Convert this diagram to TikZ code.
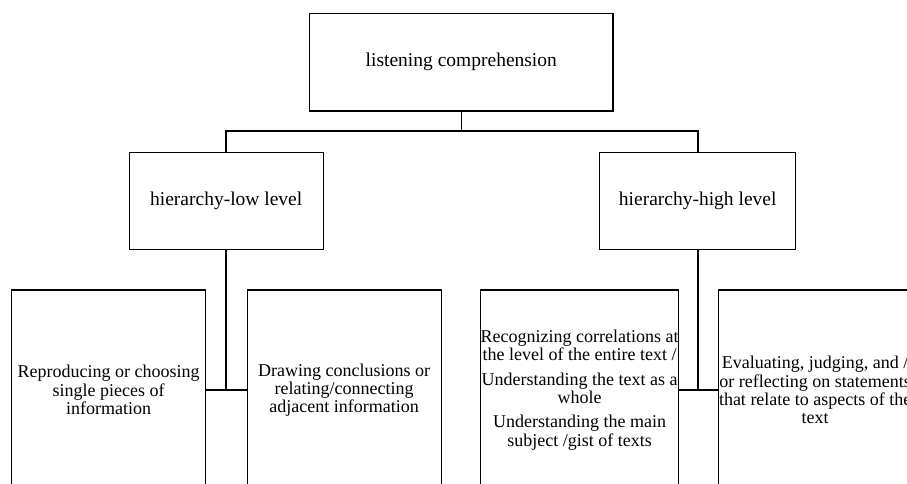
\documentclass[tikz,border=0pt]{standalone}
\usepackage{fontspec}
\setmainfont{Liberation Serif}
\begin{document}
\begin{tikzpicture}[x=1pt,y=-1pt,
  box/.style={draw=black, line width=1.3pt, rectangle, inner sep=0pt, align=center, fill=white},
  bigtxt/.style={font=\fontsize{19.5}{21}\selectfont},
  smalltxt/.style={font=\fontsize{18}{18.3}\selectfont},
  conn/.style={draw=black, line width=1.6pt}]
\useasboundingbox (0,0) rectangle (907,484);
\clip (0,0) rectangle (907,484);
\fill[white] (0,0) rectangle (907,484);

\node[box, bigtxt, minimum width=303.5pt, minimum height=97.7pt] (top) at (461.3,62.2) {listening comprehension};
\node[box, bigtxt, minimum width=194pt, minimum height=97pt] (low) at (226.2,200.7) {hierarchy-low level};
\node[box, bigtxt, minimum width=196pt, minimum height=97pt] (high) at (697.7,200.7) {hierarchy-high level};

\node[box, smalltxt, minimum width=194pt, minimum height=200pt] (b1) at (108.7,390) {Reproducing or choosing\\single pieces of\\information};
\node[box, smalltxt, minimum width=194pt, minimum height=200pt] (b2) at (344.2,390) {Drawing conclusions or\\relating/connecting\\adjacent information};
\node[box, smalltxt, minimum width=194pt, minimum height=200pt] (b3) at (579.7,390) {Recognizing correlations at\\the level of the entire text /\\[6pt]Understanding the text as a\\whole\\[6pt]Understanding the main\\subject /gist of texts};
\node[box, smalltxt, minimum width=194pt, minimum height=200pt] (b4) at (815.2,390) {Evaluating, judging, and /\\or reflecting on statements\\that relate to aspects of the\\text};

\coordinate (j) at (461.3,131);

\draw[conn] (top.south) -- (j);
\draw[conn] (low.north) |- (j) -| (high.north);
\draw[conn] (low.south) -- (low.south |- b1.east);
\draw[conn] (b1.east) -- (b2.west);
\draw[conn] (high.south) -- (high.south |- b3.east);
\draw[conn] (b3.east) -- (b4.west);
\end{tikzpicture}
\end{document}
